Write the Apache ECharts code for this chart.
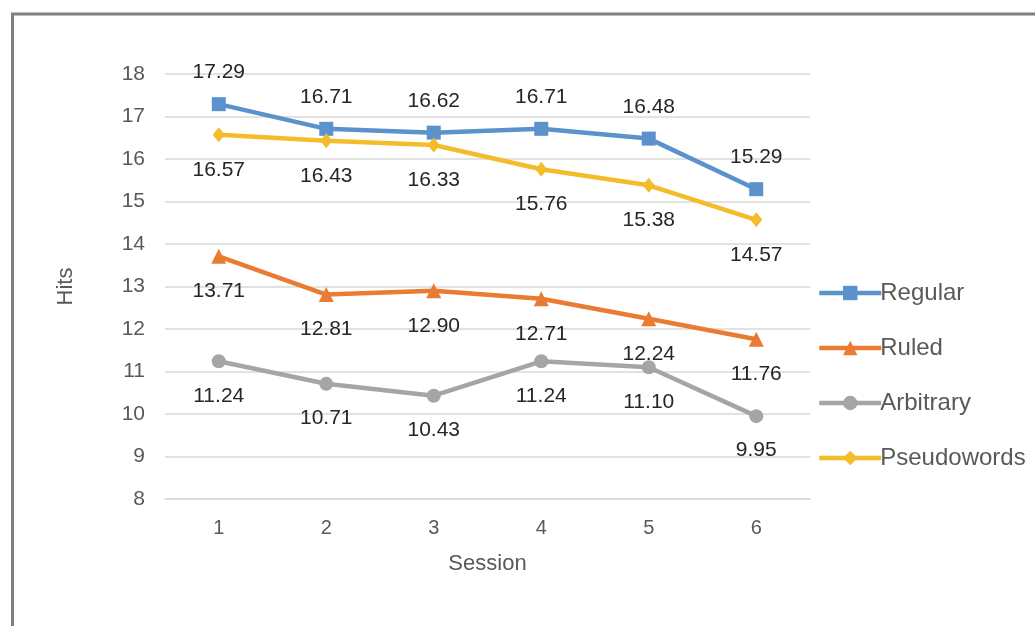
<!DOCTYPE html>
<html>
<head>
<meta charset="utf-8">
<script src="https://cdn.jsdelivr.net/npm/echarts@6/dist/echarts.min.js"></script>
<style>
  html, body { margin: 0; padding: 0; background: #fff; }
  #chart { width: 1035px; height: 626px; }
</style>
</head>
<body>
<div id="chart"></div>
<script>
// Mean hits per session for each word type
const sessions = ['1', '2', '3', '4', '5', '6'];
const regular = [17.29, 16.71, 16.62, 16.71, 16.48, 15.29];
const ruled = [13.71, 12.81, 12.90, 12.71, 12.24, 11.76];
const arbitrary = [11.24, 10.71, 10.43, 11.24, 11.10, 9.95];
const pseudowords = [16.57, 16.43, 16.33, 15.76, 15.38, 14.57];

const FONT = '"Liberation Sans", Arial, sans-serif';

function lineSeries(name, data, color, symbol, symbolSize, labelPos) {
  return {
    name: name,
    type: 'line',
    data: data,
    symbol: symbol,
    symbolSize: symbolSize,
    showAllSymbol: true,
    lineStyle: { color: color, width: 4.5 },
    itemStyle: { color: color },
    label: {
      show: true,
      position: labelPos,
      distance: labelPos === 'top' ? 14 : 17,
      fontFamily: FONT,
      fontSize: 21,
      color: '#262626',
      formatter: p => p.value.toFixed(2)
    },
    emphasis: { disabled: true },
    animation: false
  };
}

const chart = echarts.init(document.getElementById('chart'), null, { renderer: 'canvas' });
chart.setOption({
  backgroundColor: '#ffffff',
  animation: false,
  textStyle: { fontFamily: FONT },
  graphic: [{
    type: 'rect',
    shape: { x: 12.5, y: 14, width: 1100, height: 700 },
    style: { fill: 'none', stroke: '#7f7f7f', lineWidth: 3 },
    silent: true
  }],
  grid: { left: 165, right: 1035 - 810, top: 74, bottom: 626 - 499, containLabel: false },
  xAxis: {
    type: 'category',
    data: sessions,
    boundaryGap: true,
    axisLine: { show: true, lineStyle: { color: '#d9d9d9', width: 1.5 } },
    axisTick: { show: false },
    axisLabel: { fontFamily: FONT, fontSize: 20, color: '#595959', margin: 19 },
    name: 'Session',
    nameLocation: 'middle',
    nameGap: 54,
    nameTextStyle: { fontFamily: FONT, fontSize: 22, color: '#595959' }
  },
  yAxis: {
    type: 'value',
    min: 8,
    max: 18,
    interval: 1,
    axisLine: { show: false },
    axisTick: { show: false },
    splitLine: { lineStyle: { color: '#d9d9d9', width: 1.5 } },
    axisLabel: { fontFamily: FONT, fontSize: 21, color: '#595959', margin: 20 },
    name: 'Hits',
    nameLocation: 'middle',
    nameGap: 88,
    nameRotate: 90,
    nameTextStyle: { fontFamily: FONT, fontSize: 22, color: '#595959' }
  },
  legend: {
    orient: 'vertical',
    left: 812,
    top: 276,
    itemWidth: 62,
    itemHeight: 18,
    itemGap: 31,
    lineStyle: { width: 4.5 },
    textStyle: { fontFamily: FONT, fontSize: 24, color: '#595959', padding: [0, 0, 0, -6] },
    data: ['Regular', 'Ruled', 'Arbitrary', 'Pseudowords']
  },
  series: [
    lineSeries('Regular', regular, '#5b92cc', 'rect', 14, 'top'),
    lineSeries('Ruled', ruled, '#e97b33', 'triangle', 15, 'bottom'),
    lineSeries('Arbitrary', arbitrary, '#a5a5a5', 'circle', 14, 'bottom'),
    lineSeries('Pseudowords', pseudowords, '#f2bc2a', 'diamond', [12, 15], 'bottom')
  ]
});
</script>
</body>
</html>
